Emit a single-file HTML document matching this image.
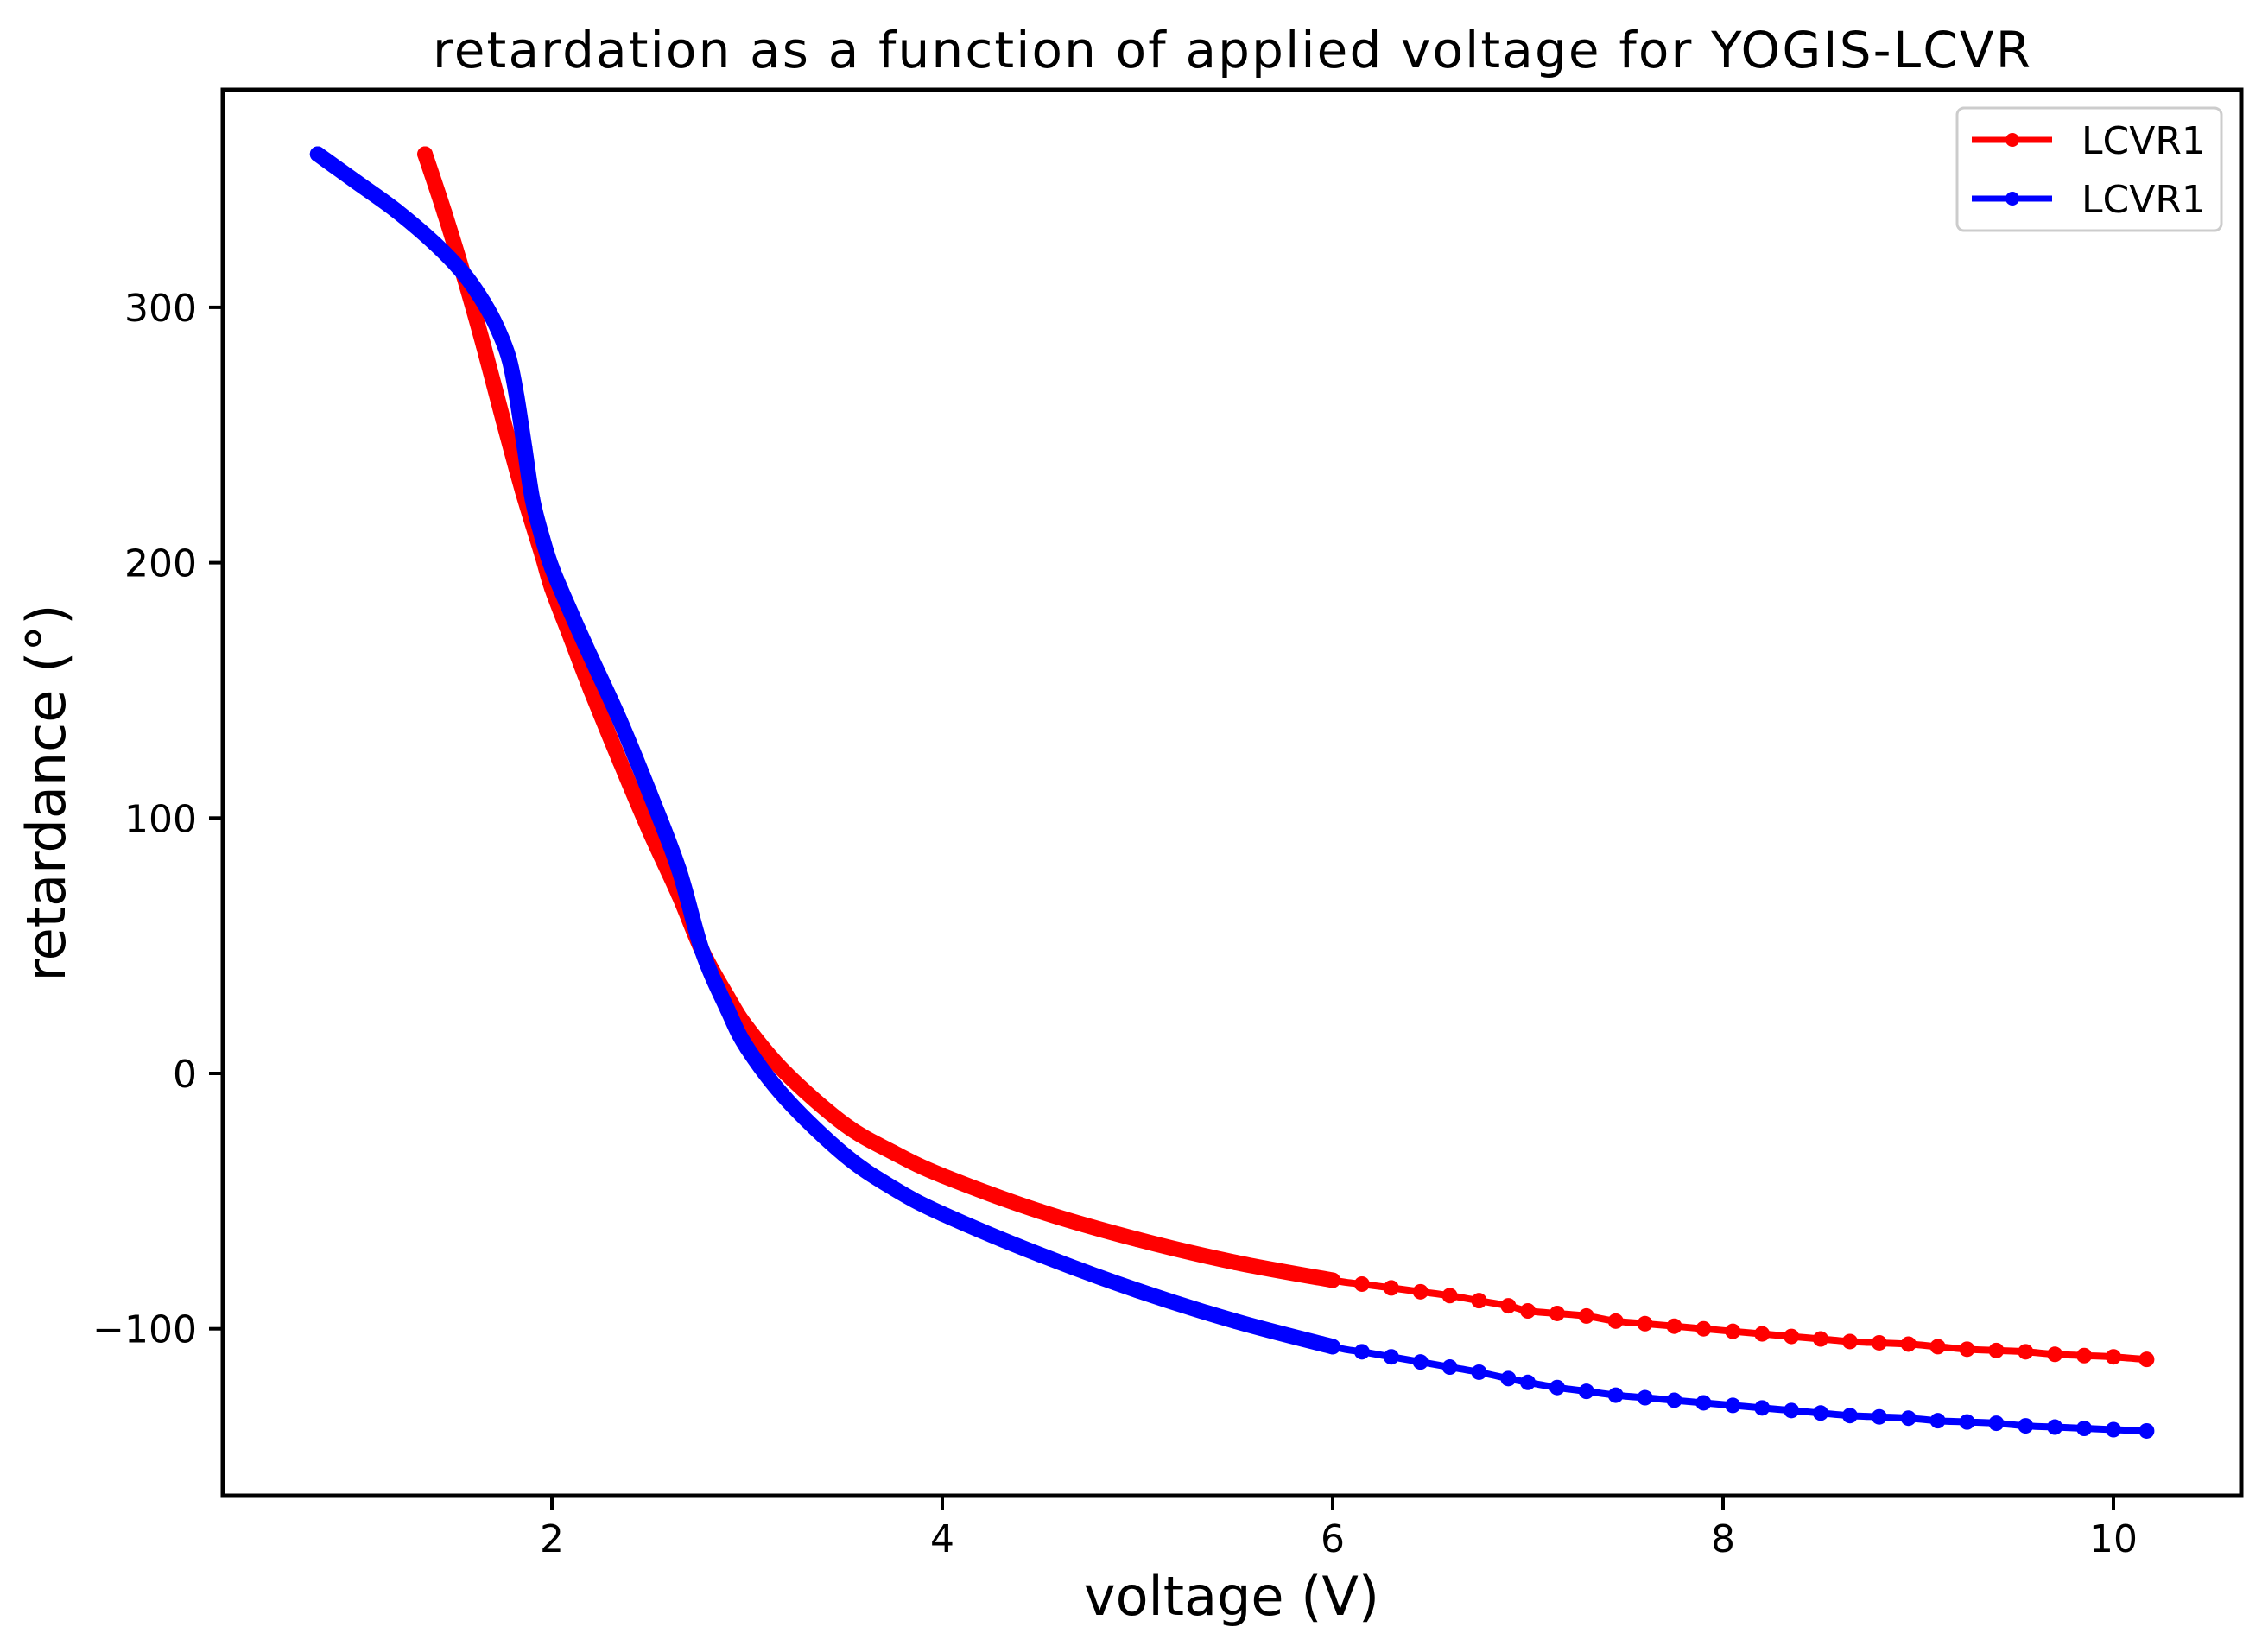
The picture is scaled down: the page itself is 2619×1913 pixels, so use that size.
<!DOCTYPE html>
<html><head><meta charset="utf-8"><style>
html,body{margin:0;padding:0;background:#fff}
svg{display:block}
text{font-family:"DejaVu Sans","Liberation Sans",sans-serif;fill:#000}
</style></head><body>
<svg id="chart" width="2619" height="1913" viewBox="0 0 2619 1913">
<text x="1426" y="78" font-size="58" text-anchor="middle" textLength="1850">retardation as a function of applied voltage for YOGIS-LCVR</text>
<g id="plot"></g>
<g id="xticks"></g>
<g id="yticks"></g>
<rect x="258" y="104" width="2337" height="1628" fill="none" stroke="#000" stroke-width="5"/>
<text x="1426" y="1870" font-size="62" text-anchor="middle">voltage (V)</text>
<text x="0" y="0" font-size="62" text-anchor="middle" transform="translate(75,918) rotate(-90)">retardance (°)</text>
<g>
<rect x="2266" y="125" width="306" height="142" rx="8" fill="#fff" stroke="#ccc" stroke-width="3"/>
<g>
<line x1="2283" y1="162" x2="2376" y2="162" stroke="#ff0000" stroke-width="7"/>
<circle cx="2330" cy="162" r="8" fill="#ff0000"/>
<text x="2410" y="178" font-size="44">LCVR1</text></g>
<g>
<line x1="2283" y1="230" x2="2376" y2="230" stroke="#0000ff" stroke-width="7"/>
<circle cx="2330" cy="230" r="8" fill="#0000ff"/>
<text x="2410" y="246" font-size="44">LCVR1</text></g>
</g>
</svg>
<script>
const xTicks=[2,4,6,8,10];
const yTicks=[-100,0,100,200,300];
const redV=[1.35,1.45,1.55,1.65,1.75,1.85,1.95,2.0,2.1,2.2,2.35,2.5,2.65,2.77,2.9,3.0,3.2,3.5,3.75,4.0,4.5,5.0,5.5,6.0,6.15,6.3,6.45,6.6,6.75,6.9,7.0,7.15,7.3,7.45,7.6,7.75,7.9,8.05,8.2,8.35,8.5,8.65,8.8,8.95,9.1,9.25,9.4,9.55,9.7,9.85,10.0,10.17];
const redR=[360,337,312,285,256,228,203,190,170,150,122,95,70,48,30,18,0,-20,-31,-40,-54,-65,-74,-81,-82.5,-84,-85.5,-87,-89,-91,-93,-94,-95,-97,-98,-99,-100,-101,-102,-103,-104,-105,-105.5,-106,-107,-108,-108.5,-109,-110,-110.5,-111,-112];
const blueV=[0.8,1.0,1.2,1.4,1.55,1.65,1.72,1.78,1.82,1.86,1.9,1.95,2.0,2.1,2.2,2.35,2.5,2.65,2.77,2.9,3.0,3.2,3.5,3.75,4.0,4.5,5.0,5.5,6.0,6.15,6.3,6.45,6.6,6.75,6.9,7.0,7.15,7.3,7.45,7.6,7.75,7.9,8.05,8.2,8.35,8.5,8.65,8.8,8.95,9.1,9.25,9.4,9.55,9.7,9.85,10.0,10.17];
const blueR=[360,349,338,325,313,302,292,280,265,245,225,210,198,180,163,138,110,80,48,25,10,-10,-32,-45,-55,-71,-85,-97,-107,-109,-111,-113,-115,-117,-119.5,-121,-123,-124.5,-126,-127,-128,-129,-130,-131,-132,-133,-134,-134.5,-135,-136,-136.5,-137,-138,-138.5,-139,-139.5,-140];
const X0=258,X1=2595,Y0=104,Y1=1732;
const xMin=(258-187)/226, xMax=(2595-187)/226;
const yMin=-(1732-1243)/2.957, yMax=(1243-104)/2.957;
function sx(v){return X0+(v-xMin)/(xMax-xMin)*(X1-X0);}
function sy(r){return Y1-(r-yMin)/(yMax-yMin)*(Y1-Y0);}
const NS="http://www.w3.org/2000/svg";
function mk(tag,attrs,parent){const e=document.createElementNS(NS,tag);for(const k in attrs)e.setAttribute(k,attrs[k]);parent.appendChild(e);return e;}
const xg=document.getElementById('xticks'),yg=document.getElementById('yticks'),pg=document.getElementById('plot');
xTicks.forEach(t=>{const g=mk('g',{},xg);


mk('line',{x1:sx(t),x2:sx(t),y1:Y1,y2:Y1+16,stroke:'#000','stroke-width':4},g);
const tx=mk('text',{x:sx(t),y:1797,'font-size':44,'text-anchor':'middle'},g);tx.textContent=t;});
yTicks.forEach(t=>{const g=mk('g',{},yg);


mk('line',{x1:X0-16,x2:X0,y1:sy(t),y2:sy(t),stroke:'#000','stroke-width':4},g);
const tx=mk('text',{x:228,y:sy(t)+16,'font-size':44,'text-anchor':'end'},g);tx.textContent=(t<0?'\u2212'+(-t):t);});
function smooth(P){
let d='M'+P[0][0].toFixed(1)+','+P[0][1].toFixed(1);
for(let i=0;i<P.length-1;i++){
const p0=P[Math.max(i-1,0)],p1=P[i],p2=P[i+1],p3=P[Math.min(i+2,P.length-1)];
const c1=[p1[0]+(p2[0]-p0[0])/6,p1[1]+(p2[1]-p0[1])/6];
const c2=[p2[0]-(p3[0]-p1[0])/6,p2[1]-(p3[1]-p1[1])/6];
d+=' C'+c1.map(n=>n.toFixed(1)).join(',')+' '+c2.map(n=>n.toFixed(1)).join(',')+' '+p2[0].toFixed(1)+','+p2[1].toFixed(1);}
return d;}
function series(V,R,color,name){
const g=mk('g',{},pg);


const P=V.map((v,i)=>[sx(v),sy(R[i])]);
mk('path',{d:smooth(P),fill:'none',stroke:color,'stroke-width':8,'stroke-linejoin':'round'},g);
const dense=P.filter((p,i)=>V[i]<=6);
mk('path',{d:smooth(dense),fill:'none',stroke:color,'stroke-width':18,'stroke-linejoin':'round','stroke-linecap':'round'},g);
V.forEach((v,i)=>{const c=mk('circle',{cx:sx(v),cy:sy(R[i]),r:9,fill:color},g);

});
}
series(redV,redR,'#ff0000','series-lcvr1-red');
series(blueV,blueR,'#0000ff','series-lcvr1-blue');
</script>
</body></html>
